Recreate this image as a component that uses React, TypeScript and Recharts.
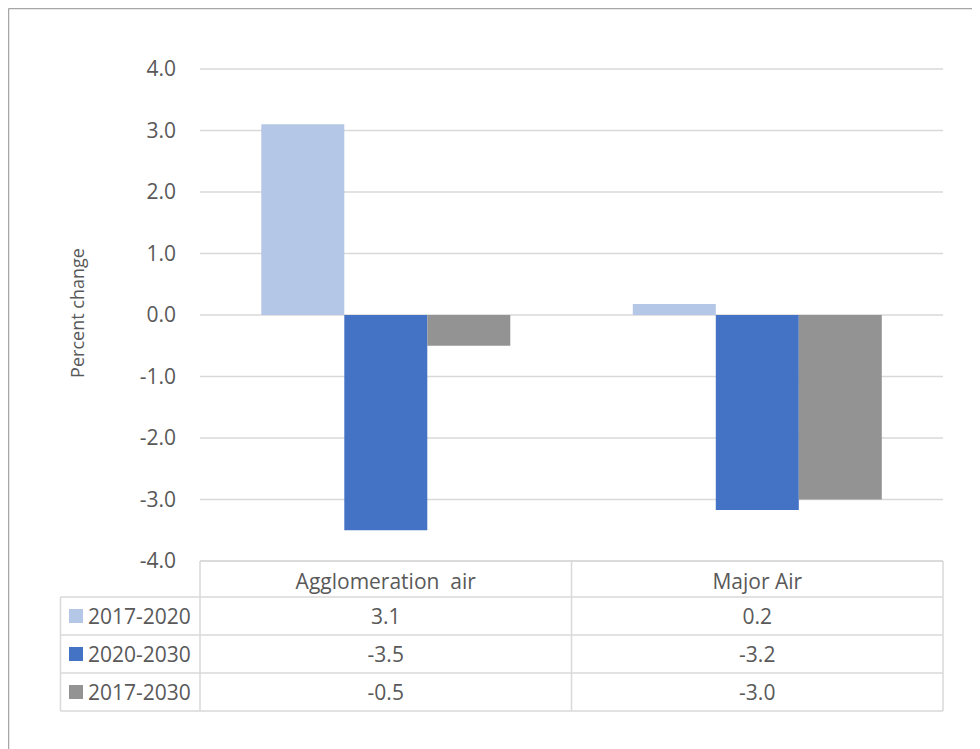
import { BarChart, Bar, XAxis, YAxis, CartesianGrid } from 'recharts';

const categories = ['Agglomeration  air', 'Major Air'];
const s2017to2020 = [3.1, 0.18];
const s2020to2030 = [-3.5, -3.17];
const s2017to2030 = [-0.5, -3.0];
const yTicks = [-4, -3, -2, -1, 0, 1, 2, 3, 4];

const series = [
  { key: 'a', name: '2017-2020', values: s2017to2020, color: '#b4c7e7' },
  { key: 'b', name: '2020-2030', values: s2020to2030, color: '#4472c4' },
  { key: 'c', name: '2017-2030', values: s2017to2030, color: '#939393' },
];

const data = categories.map((cat, i) => ({
  cat,
  a: s2017to2020[i],
  b: s2020to2030[i],
  c: s2017to2030[i],
}));

const W = 972;
const H = 741;
const FONT = '"Open Sans", "Noto Sans", sans-serif';
const TXT = '#595959';
const LINE = '#d9d9d9';
const FS = 21;

// table geometry (chart coords)
const tLeft = 52.5;
const pLeft = 192;
const pRight = 935;
const pMid = (pLeft + pRight) / 2;
const headTop = 553;
const rowH = 38;
const headBottom = 589;

const CatTick = (props: any) => {
  const { x, y, payload } = props;
  return (
    <text x={x} y={y + 18} textAnchor="middle" dominantBaseline="central"
      fontSize={FS} fill={TXT} fontFamily={FONT} style={{ whiteSpace: 'pre' }}>
      {payload.value}
    </text>
  );
};

const YLabel = (props: any) => {
  const { viewBox } = props;
  const cx = 69;
  const cy = viewBox.y + viewBox.height / 2 - 2;
  return (
    <text x={cx} y={cy} transform={`rotate(-90 ${cx} ${cy})`} textAnchor="middle"
      dominantBaseline="central" fontSize={18} fill={TXT} fontFamily={FONT}>
      Percent change
    </text>
  );
};

export default function App() {
  const colCenters = [(pLeft + pMid) / 2, (pMid + pRight) / 2];
  return (
    <div style={{ position: 'relative', width: W, height: H, fontFamily: FONT }}>
      <BarChart width={W} height={H} data={data}
        margin={{ top: 61, right: W - pRight, left: 0, bottom: 152 }}
        barCategoryGap="16.5%" barGap={0}>
        <CartesianGrid vertical={false} stroke={LINE} strokeWidth={1.5} />
        <XAxis dataKey="cat" axisLine={false} tickLine={false} tickSize={0} height={36}
          tick={<CatTick />} interval={0} />
        <YAxis width={pLeft} domain={[-4, 4]} ticks={yTicks} axisLine={false} tickLine={false}
          tickSize={0} tickMargin={24} tickFormatter={(v: number) => v.toFixed(1)}
          tick={{ fill: TXT, fontSize: FS, fontFamily: FONT }} label={<YLabel />} />
        {series.map((s) => (
          <Bar key={s.key} dataKey={s.key} name={s.name} fill={s.color} isAnimationActive={false} />
        ))}
      </BarChart>
      <svg width={W} height={H} style={{ position: 'absolute', left: 0, top: 0, pointerEvents: 'none' }}>
        <line x1={0.5} y1={0.5} x2={W} y2={0.5} stroke="#a6a6a6" strokeWidth={1.5} />
        <line x1={0.5} y1={0.5} x2={0.5} y2={H} stroke="#a6a6a6" strokeWidth={1.5} />
        <g stroke={LINE} strokeWidth={1.5}>
          <line x1={pLeft} y1={headTop} x2={pRight} y2={headTop} />
          {[0, 1, 2, 3].map((r) => (
            <line key={r} x1={tLeft} y1={headBottom + r * rowH} x2={pRight} y2={headBottom + r * rowH} />
          ))}
          <line x1={tLeft} y1={headBottom} x2={tLeft} y2={headBottom + 3 * rowH} />
          {[pLeft, pMid, pRight].map((x) => (
            <line key={x} x1={x} y1={headTop} x2={x} y2={headBottom + 3 * rowH} />
          ))}
        </g>
        {series.map((s, r) => {
          const cy = headBottom + r * rowH + rowH / 2;
          return (
            <g key={s.key}>
              <rect x={61} y={cy - 7} width={14} height={14} fill={s.color} />
              <text x={80} y={cy} dominantBaseline="central" fontSize={FS} fill={TXT} fontFamily={FONT}>
                {s.name}
              </text>
              {s.values.map((v, i) => (
                <text key={i} x={colCenters[i]} y={cy} textAnchor="middle" dominantBaseline="central"
                  fontSize={FS} fill={TXT} fontFamily={FONT}>
                  {v.toFixed(1)}
                </text>
              ))}
            </g>
          );
        })}
      </svg>
    </div>
  );
}
